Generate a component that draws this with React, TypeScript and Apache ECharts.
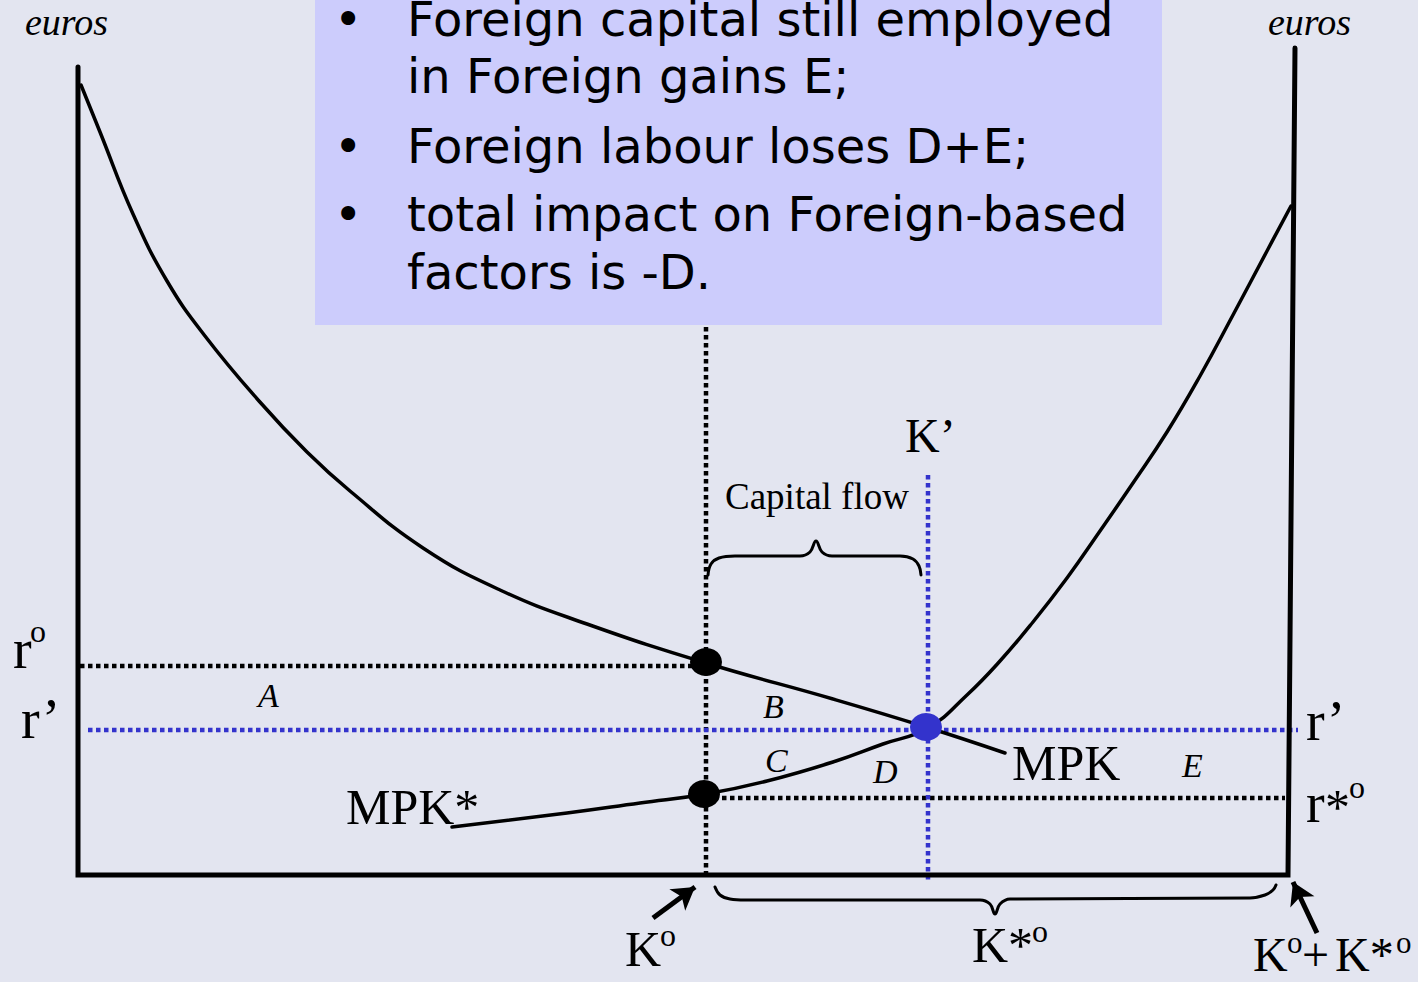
import React, { useEffect, useRef } from "react";
import * as echarts from "echarts";

// ---- data (pixel-space coordinates of the diagram) ----
const axisFrame = [[78, 67], [78, 875], [1288, 875], [1295, 48]];
const mpkCurve = [
  [81, 85], [100, 132], [133, 214], [167, 281], [205, 336], [259, 401], [307, 452],
  [350, 491], [423, 548], [500, 590], [587, 624], [706, 663], [833, 699], [926, 727], [1005, 753],
];
const mpkStarCurve = [
  [452, 827], [567, 813], [640, 803], [706, 794], [767, 781], [833, 762], [883, 744],
  [928, 728], [967, 695], [1000, 661], [1033, 622], [1067, 578], [1100, 531], [1133, 483],
  [1167, 432], [1200, 376], [1233, 315], [1267, 251], [1291, 206],
];
const rZeroLine = [[80, 666], [706, 666]];
const kZeroLine = [[706, 327], [706, 875]];
const rPrimeLine = [[88, 730], [1298, 730]];
const kPrimeLine = [[928, 475], [928, 880]];
const rStarLine = [[706, 798], [1285, 798]];
const blackPoints = [[706, 662], [704, 794]];
const bluePoints = [[926, 727]];
const capitalFlowBrace = [
  [708, 575], [711, 564], [719, 558], [735, 556], [800, 556], [810, 552], [816, 541],
  [822, 552], [832, 556], [900, 556], [913, 559], [919, 566], [921, 575],
];
const kStarBrace = [
  [715, 887], [720, 895], [730, 899], [745, 900], [980, 900], [990, 904], [995, 914],
  [1000, 904], [1010, 899], [1250, 898], [1265, 895], [1273, 890], [1276, 885],
];
const kZeroArrow = [[653, 918], [695, 887]];
const totalArrow = [[1317, 933], [1293, 882]];
const bulletLines = [
  "Foreign capital still employed",
  "in Foreign gains E;",
  "Foreign labour loses D+E;",
  "total impact on Foreign-based",
  "factors is -D.",
];
const bulletMarks = [true, false, true, true, false];
const bulletBaselines = [35, 92, 162, 230, 288];

const BG = "#e3e5f0";
const BOX = "#ccccfc";
const BLUE = "#3333cc";
const SERIF = "'Liberation Serif', 'Times New Roman', serif";
const SANS = "'DejaVu Sans', Verdana, sans-serif";

function txt(text: string, x: number, baseline: number, size: number, family: string, italic = false, fill = "#000") {
  return {
    type: "text",
    x,
    y: baseline - 0.34 * size,
    silent: true,
    z: 100,
    style: {
      text,
      fill,
      font: `${italic ? "italic " : ""}${size}px ${family}`,
      textAlign: "left",
      align: "left",
      textVerticalAlign: "middle",
      verticalAlign: "middle",
    },
  };
}

function lineSeries(data: number[][], color: string, width: number, dotted = false, smooth: number | boolean = false, z = 2) {
  return {
    type: "line",
    data,
    smooth,
    symbol: "none",
    silent: true,
    z,
    lineStyle: {
      color,
      width,
      type: dotted ? [4.5, 3.5] : "solid",
      cap: dotted ? "butt" : "round",
      join: "miter",
    },
  };
}

export default function App() {
  const ref = useRef<HTMLDivElement>(null);
  useEffect(() => {
    if (!ref.current) return;
    const chart = echarts.init(ref.current, undefined, { renderer: "svg" });

    const texts: any[] = [];
    texts.push(txt("euros", 25, 35, 38, SERIF, true));
    texts.push(txt("euros", 1268, 35, 38, SERIF, true));
    // r° left
    texts.push(txt("r", 13, 668, 56, SERIF));
    texts.push(txt("o", 30, 642, 32, SERIF));
    texts.push(txt("r\u2019", 21, 738, 56, SERIF));
    // areas
    texts.push(txt("A", 258, 707, 34, SERIF, true));
    texts.push(txt("B", 763, 718, 34, SERIF, true));
    texts.push(txt("C", 765, 772, 34, SERIF, true));
    texts.push(txt("D", 873, 783, 34, SERIF, true));
    texts.push(txt("E", 1182, 777, 34, SERIF, true));
    texts.push(txt("MPK", 1012, 780, 50, SERIF));
    texts.push(txt("MPK*", 346, 824, 50, SERIF));
    texts.push(txt("K\u2019", 905, 452, 48, SERIF));
    texts.push(txt("Capital flow", 725, 509, 37, SERIF));
    texts.push(txt("r\u2019", 1306, 740, 56, SERIF));
    texts.push(txt("r", 1306, 822, 56, SERIF));
    texts.push(txt("*", 1325, 824, 50, SERIF));
    texts.push(txt("o", 1349, 798, 32, SERIF));
    texts.push(txt("K*", 972, 962, 50, SERIF));
    texts.push(txt("o", 1032, 942, 32, SERIF));
    texts.push(txt("K", 625, 966, 50, SERIF));
    texts.push(txt("o", 660, 946, 32, SERIF));
    texts.push(txt("K", 1253, 971, 48, SERIF));
    texts.push(txt("o", 1287, 953, 31, SERIF));
    texts.push(txt("+", 1302, 971, 48, SERIF));
    texts.push(txt("K*", 1335, 971, 48, SERIF));
    texts.push(txt("o", 1396, 953, 31, SERIF));
    bulletLines.forEach((line, i) => {
      if (bulletMarks[i]) texts.push(txt("\u2022", 334, bulletBaselines[i], 48, SANS));
      texts.push(txt(line, 407, bulletBaselines[i], 48, SANS));
    });

    chart.setOption({
      animation: false,
      backgroundColor: BG,
      grid: { left: 0, right: 0, top: 0, bottom: 0 },
      xAxis: { type: "value", min: 0, max: 1418, show: false },
      yAxis: { type: "value", min: 0, max: 982, inverse: true, show: false },
      graphic: [
        {
          type: "rect",
          shape: { x: 315, y: 0, width: 847, height: 325 },
          style: { fill: BOX },
          silent: true,
          z: -10,
        },
        ...texts,
      ],
      series: [
        lineSeries(rZeroLine, "#000", 4.5, true),
        lineSeries(kZeroLine, "#000", 4.5, true),
        lineSeries(rStarLine, "#000", 4.5, true),
        lineSeries(rPrimeLine, BLUE, 4.5, true),
        lineSeries(kPrimeLine, BLUE, 4.5, true),
        {
          ...lineSeries(axisFrame, "#000", 5, false, false, 3),
          markLine: {
            silent: true,
            symbol: ["none", "arrow"],
            symbolSize: [20, 22],
            label: { show: false },
            lineStyle: { color: "#000", width: 5, type: "solid" },
            data: [
              [{ coord: kZeroArrow[0] }, { coord: kZeroArrow[1] }],
              [{ coord: totalArrow[0] }, { coord: totalArrow[1] }],
            ],
          },
        },
        lineSeries(mpkCurve, "#000", 3.5, false, 0.45, 4),
        lineSeries(mpkStarCurve, "#000", 3.5, false, 0.45, 4),
        lineSeries(capitalFlowBrace, "#000", 3, false, 0.4, 4),
        lineSeries(kStarBrace, "#000", 3, false, 0.4, 4),
        {
          type: "scatter",
          data: blackPoints,
          symbol: "circle",
          symbolSize: [32, 28],
          itemStyle: { color: "#000", opacity: 1 },
          silent: true,
          z: 6,
        },
        {
          type: "scatter",
          data: bluePoints,
          symbol: "circle",
          symbolSize: [32, 28],
          itemStyle: { color: BLUE, opacity: 1 },
          silent: true,
          z: 6,
        },
      ],
    });
    return () => chart.dispose();
  }, []);

  return (
    <div
      ref={ref}
      style={{ position: "fixed", left: 0, top: 0, width: 1418, height: 982, background: BG }}
    />
  );
}
